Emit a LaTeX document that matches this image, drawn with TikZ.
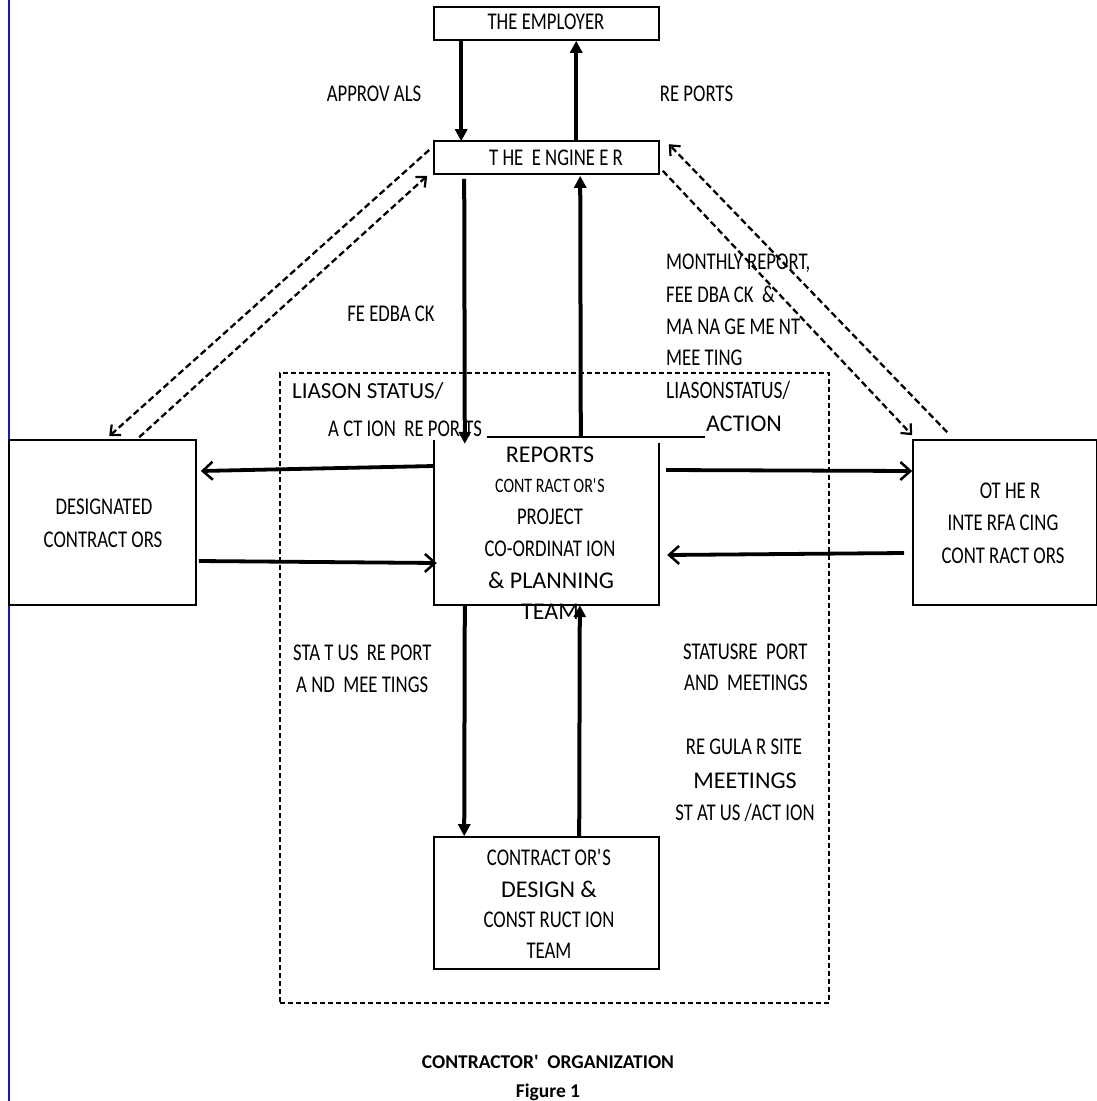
\documentclass[tikz,border=0pt]{standalone}
\usepackage{fontspec}
\setmainfont{Carlito}
\newfontfamily\condf[FakeStretch=0.78]{Carlito}
\usetikzlibrary{arrows.meta,calc}
\definecolor{edgeblue}{RGB}{20,20,200}
\begin{document}
\begin{tikzpicture}[x=1pt,y=-1pt,
  box/.style={draw,line width=1.6pt,inner sep=0pt},
  cf/.style={font=\condf\fontsize{24}{26}\selectfont,inner sep=0pt,text height=15.4pt,text depth=0pt},
  cfs/.style={font=\condf\fontsize{20.5}{23}\selectfont,inner sep=0pt,text height=13.2pt,text depth=0pt},
  lf/.style={font=\fontsize{24}{27}\selectfont,inner sep=0pt,text height=15.4pt,text depth=0pt},
  capf/.style={font=\bfseries\fontsize{19.5}{22}\selectfont,inner sep=0pt,text height=12.6pt,text depth=0pt},
  solidarr/.style={line width=4pt,-{Triangle[length=12pt,width=12pt]}},
  openarr/.style={line width=3.8pt,-{Straight Barb[length=10pt,width=18pt,line width=2.5pt]}},
  dasharr/.style={line width=2.3pt,dash pattern=on 6.5pt off 3.5pt,-{Straight Barb[length=8pt,width=14pt,line width=2.2pt]}},
  region/.style={draw,line width=1.3pt,dash pattern=on 5pt off 3pt,inner sep=0pt}]
\useasboundingbox (0,0) rectangle (1097,1101);
\fill[white] (0,0) rectangle (1097,1101);
% blue margin line
\coordinate (bt) at (9,0);
\coordinate (bb) at (9,1101);
\draw[edgeblue,line width=2pt] (bt) -- (bb);

% dashed contractor region
\node[region,minimum width=549pt,minimum height=630pt] (reg) at (554.5,688) {};

% boxes
\node[box,minimum width=225pt,minimum height=33pt] (emp) at (546.5,23.5) {};
\node[cf] (empt) at (546,21.5) {THE EMPLOYER};
\node[box,minimum width=225pt,minimum height=33pt] (eng) at (546.5,157.5) {};
\node[cf] (engt) at (556,158) {T HE \ E NGINE E R};
\node[minimum width=225pt,minimum height=165pt,inner sep=0pt] (cen) at (546.5,522.5) {};
\draw[line width=1.6pt] (cen.north west) -- (cen.south west) -- (cen.south east) -- ($(cen.north east)+(0,3)$);
\coordinate (cl) at ($(cen.north west)+(53,-3)$);
\coordinate (cr) at ($(cen.north west)+(271,-3)$);
\draw[line width=1.6pt] (cl) -- (cr);
\node[box,minimum width=187pt,minimum height=165pt] (des) at (102.5,522.5) {};
\node[box,minimum width=184pt,minimum height=165pt] (oth) at (1005,522.5) {};
\node[box,minimum width=225pt,minimum height=132pt] (bot) at (546.5,903) {};

% box texts
\node[lf] (c1) at (550,455) {REPORTS};
\node[cfs] (c2) at (550,486) {CONT RACT OR\textquotesingle S};
\node[cf] (c3) at (550,517) {PROJECT};
\node[cf] (c4) at (550,549) {CO-ORDINAT ION};
\node[lf] (c5) at (551,581) {\& PLANNING};
\node[lf] (c6) at (550,612) {TEAM};

\node[cf] (d1) at (104,507) {DESIGNATED};
\node[cf] (d2) at (103,540) {CONTRACT ORS};

\node[cf] (o1) at (1010,491) {OT HE R};
\node[cf] (o2) at (1003,523) {INTE RFA CING};
\node[cf] (o3) at (1003,556) {CONT RACT ORS};

\node[cf] (b1) at (549,858) {CONTRACT OR\textquotesingle S};
\node[lf] (b2) at (549,890) {DESIGN \&};
\node[cf] (b3) at (549,920) {CONST RUCT ION};
\node[cf] (b4) at (549,951) {TEAM};

% labels
\node[cf] (l1) at (374,94) {APPROV ALS};
\node[cf] (l2) at (696.5,94) {RE PORTS};
\node[cf] (l3) at (391,314) {FE EDBA CK};
\node[cf,anchor=west] (l4) at (666,262) {MONTHLY REPORT,};
\node[cf,anchor=west] (l5) at (666,295) {FEE DBA CK \ \&};
\node[cf,anchor=west] (l6) at (666,327) {MA NA GE ME NT};
\node[cf,anchor=west] (l7) at (666,358) {MEE TING};
\node[cf,font=\condf\fontsize{25}{27}\selectfont,anchor=west] (l8) at (666,391) {LIASONSTATUS/};
\node[lf,anchor=west] (l9) at (706,424) {ACTION};
\node[lf,font=\fontsize{23}{26}\selectfont,anchor=west] (l10) at (292,391) {LIASON STATUS/};
\node[cf,anchor=west] (l11) at (328,429) {A CT ION \ RE POR TS};
\node[cf,anchor=west] (l12) at (293,653) {STA T US \ RE PORT};
\node[cf,anchor=west] (l13) at (296,685) {A ND \ MEE TINGS};
\node[cf,anchor=west] (l14) at (683,652) {STATUSRE \ PORT};
\node[cf,anchor=west] (l15) at (684,683) {AND \ MEETINGS};
\node[cf] (l16) at (744,747) {RE GULA R SITE};
\node[lf] (l17) at (745,781) {MEETINGS};
\node[cf] (l18) at (745,813) {ST AT US /ACT ION};

% caption
\node[capf] (cap1) at (548,1062) {CONTRACTOR\textquotesingle\ \ ORGANIZATION};
\node[capf] (cap2) at (548,1091) {Figure 1};

% solid vertical arrows
\draw[solidarr] ($(emp.south west)+(28,0)$) -- ($(eng.north west)+(28,1)$);
\draw[solidarr] ($(eng.north west)+(143,0)$) -- ($(emp.south west)+(143,0)$);
\draw[solidarr] ($(eng.south west)+(31,4)$) -- ($(cen.north west)+(31,4)$);
\draw[solidarr] ($(cen.north west)+(147,-3)$) -- ($(eng.south west)+(147,1)$);
\draw[solidarr] ($(cen.south west)+(31,0)$) -- ($(bot.north west)+(31,0)$);
\draw[solidarr] ($(bot.north west)+(146,0)$) -- ($(cen.south west)+(146,0)$);

% horizontal arrows
\draw[openarr] ($(cen.west)+(0,-56.5)$) -- ($(des.east)+(4,-51.5)$);
\draw[openarr] ($(des.east)+(2,38.5)$) -- ($(cen.west)+(3,40.5)$);
\draw[openarr] ($(cen.east)+(7,-52.5)$) -- ($(oth.west)+(0,-51.5)$);
\draw[openarr] ($(oth.west)+(-8,30.5)$) -- ($(cen.east)+(8,32.5)$);

% dashed diagonal arrows
\draw[dasharr] ($(eng.west)+(-4,-7.5)$) -- ($(des.north west)+(101,-3)$);
\draw[dasharr] ($(des.north west)+(131,-2)$) -- ($(eng.south west)+(-6,1)$);
\draw[dasharr] ($(eng.south east)+(3,-4)$) -- ($(oth.north west)+(0,-4)$);
\draw[dasharr] ($(oth.north west)+(35,-7)$) -- ($(eng.north east)+(9,4)$);
\end{tikzpicture}
\end{document}
